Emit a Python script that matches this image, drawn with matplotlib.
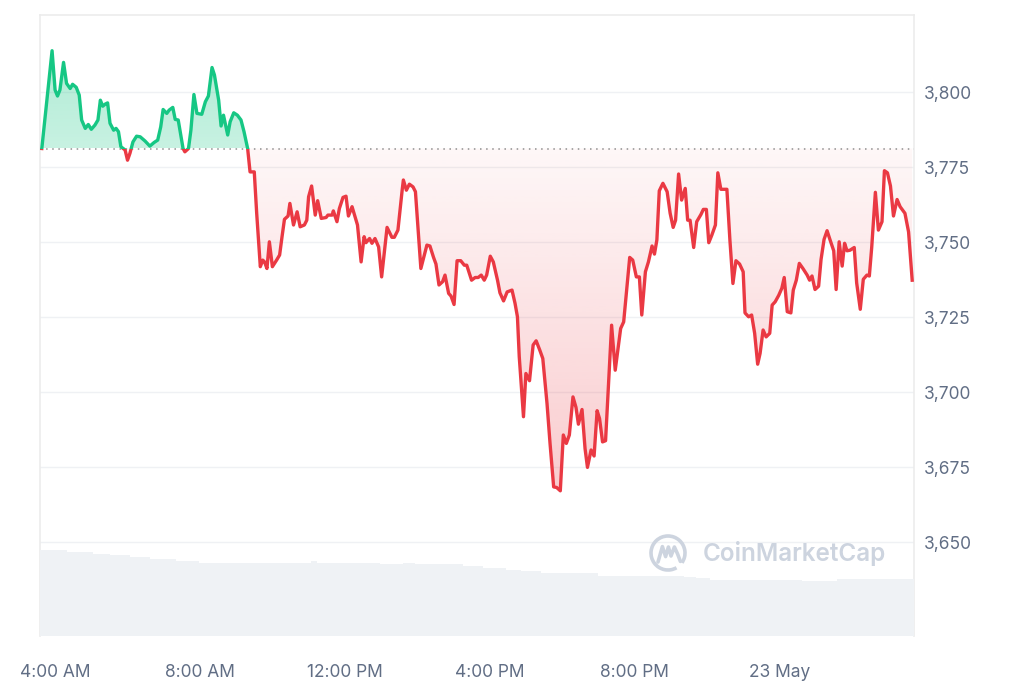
import numpy as np
import matplotlib
matplotlib.use('Agg')
import matplotlib.pyplot as plt
from matplotlib.path import Path
from matplotlib.patches import Rectangle, Arc

# minutes from 22 May 4:00 AM, price in USD
times = [-22, -5, 0, 4, 8, 14, 19, 25, 29, 35, 40, 44, 50, 55, 60, 66, 71, 75, 79, 83,
         87, 91, 97, 101, 105, 109, 116, 120, 124, 129, 135, 141, 149, 157, 164, 170, 175, 179, 185, 189,
         195, 199, 204, 212, 215, 221, 225, 230, 235, 243, 249, 254, 260, 264, 271, 275, 279, 286, 290, 296,
         302, 308, 313, 319, 323, 330, 334, 340, 344, 347, 351, 355, 360, 367, 372, 376, 380, 386, 389, 395,
         401, 406, 413, 417, 420, 425, 431, 435, 441, 449, 452, 459, 461, 467, 471, 477, 482, 486, 492, 501,
         507, 512, 515, 521, 525, 530, 536, 541, 550, 558, 562, 568, 575, 577, 582, 587, 593, 597, 606, 616,
         621, 627, 631, 636, 642, 646, 652, 656, 661, 666, 672, 678, 682, 690, 696, 701, 706, 711, 715, 721,
         726, 733, 737, 743, 749, 757, 762, 766, 769, 776, 780, 786, 792, 797, 803, 808, 815, 820, 826, 831,
         837, 842, 847, 852, 858, 863, 867, 873, 878, 882, 888, 893, 898, 902, 907, 912, 922, 928, 937, 942,
         952, 957, 963, 968, 972, 978, 983, 989, 993, 997, 1001, 1007, 1014, 1019, 1024, 1028, 1033, 1038, 1044, 1048,
         1052, 1058, 1063, 1070, 1074, 1079, 1083, 1088, 1094, 1098, 1103, 1113, 1118, 1123, 1128, 1134, 1140, 1143, 1149, 1154,
         1159, 1164, 1168, 1173, 1178, 1184, 1188, 1193, 1199, 1204, 1208, 1213, 1219, 1223, 1228, 1233, 1239, 1246, 1250, 1254,
         1259, 1265, 1269, 1274, 1279, 1284, 1290, 1294, 1299, 1304, 1308, 1312, 1317, 1324, 1328, 1334, 1339, 1345, 1349, 1353,
         1359, 1364, 1370, 1374, 1379, 1384, 1389, 1395, 1400, 1408, 1414, 1420]

prices = [3781.2, 3813.8, 3800.7, 3798.7, 3800.7, 3809.9, 3802.9, 3801.2, 3802.6, 3801.6, 3799.0, 3790.7, 3787.9, 3789.2, 3787.6, 3789.0, 3790.7, 3797.3, 3795.3, 3796.0,
          3796.4, 3789.6, 3787.3, 3787.9, 3786.8, 3781.8, 3780.7, 3777.3, 3779.6, 3783.4, 3785.3, 3785.1, 3783.7, 3782.0, 3783.2, 3784.0, 3788.4, 3794.2, 3792.9, 3794.0,
          3794.9, 3790.9, 3790.7, 3781.2, 3780.1, 3781.2, 3787.3, 3799.2, 3792.9, 3792.6, 3796.8, 3798.7, 3808.2, 3805.7, 3797.3, 3788.7, 3792.3, 3785.7, 3790.1, 3793.1,
          3792.3, 3790.7, 3786.8, 3781.2, 3773.4, 3773.4, 3759.6, 3741.8, 3744.0, 3743.4, 3741.2, 3750.1, 3741.8, 3744.0, 3745.7, 3751.8, 3757.6, 3758.7, 3762.9, 3755.7,
          3760.1, 3755.1, 3755.7, 3757.3, 3765.1, 3768.7, 3759.0, 3763.8, 3757.9, 3758.2, 3759.0, 3759.0, 3760.4, 3756.8, 3761.2, 3764.9, 3765.3, 3758.7, 3761.8, 3755.7,
          3743.4, 3751.8, 3749.8, 3751.2, 3749.6, 3751.2, 3748.4, 3738.4, 3754.9, 3751.6, 3751.6, 3754.0, 3767.3, 3770.7, 3767.3, 3769.3, 3768.4, 3766.8, 3741.2, 3749.0,
          3748.7, 3744.9, 3742.7, 3735.7, 3736.8, 3739.0, 3732.9, 3732.0, 3729.2, 3743.8, 3743.8, 3742.3, 3742.3, 3737.3, 3738.2, 3738.2, 3739.0, 3737.3, 3739.0, 3745.3,
          3743.4, 3737.3, 3733.1, 3730.4, 3733.4, 3734.0, 3729.6, 3725.1, 3711.8, 3691.8, 3706.2, 3703.8, 3715.7, 3717.1, 3714.0, 3711.2, 3696.2, 3682.9, 3668.4, 3668.2,
          3667.1, 3685.7, 3682.9, 3685.7, 3698.4, 3694.9, 3689.3, 3694.2, 3681.2, 3674.9, 3680.7, 3678.7, 3693.8, 3691.2, 3683.4, 3683.8, 3722.3, 3707.3, 3721.2, 3723.4,
          3744.9, 3744.0, 3738.4, 3738.4, 3725.7, 3740.1, 3743.4, 3748.7, 3746.0, 3750.7, 3767.1, 3769.6, 3766.8, 3759.6, 3754.9, 3757.3, 3772.7, 3764.0, 3767.9, 3757.3,
          3757.3, 3748.2, 3756.8, 3759.2, 3760.9, 3760.9, 3749.8, 3752.3, 3755.7, 3773.1, 3767.6, 3767.6, 3750.7, 3736.2, 3743.8, 3742.7, 3740.1, 3726.4, 3725.1, 3725.7,
          3719.6, 3709.3, 3712.9, 3720.7, 3718.4, 3719.6, 3729.0, 3730.1, 3732.3, 3734.6, 3738.2, 3726.8, 3726.4, 3734.0, 3737.3, 3742.9, 3741.2, 3739.0, 3737.3, 3738.7,
          3734.2, 3735.3, 3744.2, 3750.9, 3753.8, 3750.7, 3747.1, 3734.2, 3750.1, 3742.0, 3749.6, 3747.1, 3747.3, 3748.2, 3736.4, 3727.6, 3737.6, 3739.0, 3738.7, 3748.4,
          3766.6, 3754.0, 3756.8, 3773.8, 3773.1, 3768.7, 3758.7, 3764.2, 3761.8, 3759.6, 3753.4, 3737.3]

# 24h volume (billions USD), piecewise levels
vol_edges = [-25, 20, 63, 91, 124, 157, 200, 239, 424, 434, 539, 577, 597, 676, 709, 747,
             772, 805, 900, 1042, 1062, 1085, 1238, 1296, 1423]
vol_levels = [17.2, 16.9, 16.5, 16.2, 15.9, 15.4, 15.1, 14.7, 15.0, 14.7, 14.4, 14.7, 14.4,
              14.1, 13.7, 13.3, 13.1, 12.7, 12.1, 11.9, 11.7, 11.3, 11.0, 11.4]

xtick_pos = [0, 240, 480, 720, 960, 1200]
xtick_labels = ['4:00 AM', '8:00 AM', '12:00 PM', '4:00 PM', '8:00 PM', '23 May']
ytick_pos = [3650, 3675, 3700, 3725, 3750, 3775, 3800]

if len(times) != len(prices):
    raise ValueError(f'{len(times)} times vs {len(prices)} prices')

GREEN = '#16c784'
RED = '#ea3943'
TXT = '#616e85'
plt.rcParams['font.family'] = ['Inter', 'DejaVu Sans']

x = np.array(times, dtype=float)
y = np.array(prices)
base = prices[0]
xlim = (-25, 1423)
ylim = (3618.7, 3825.7)

fig = plt.figure(figsize=(10.24, 6.83), dpi=100)
ax = fig.add_axes([40 / 1024, 1 - 636 / 683, 874 / 1024, 621 / 683])
ax.set_xlim(*xlim)
ax.set_ylim(*ylim)


def gradient_fill(ax, where, color, y_near, y_far, a_near, a_far):
    poly = ax.fill_between(x, y, base, where=where, interpolate=True,
                           facecolor='none', edgecolor='none')
    path = Path.make_compound_path(*poly.get_paths())
    lo, hi = sorted([y_near, y_far])
    rgb = matplotlib.colors.to_rgb(color)
    n = 256
    alphas = np.linspace(a_near, a_far, n) if lo == y_near else np.linspace(a_far, a_near, n)
    img = np.zeros((n, 1, 4))
    img[:, 0, :3] = rgb
    img[:, 0, 3] = alphas
    im = ax.imshow(img, extent=[xlim[0], xlim[1], lo, hi], origin='lower',
                   aspect='auto', zorder=1, interpolation='bilinear')
    im.set_clip_path(path, ax.transData)


gradient_fill(ax, y >= base, GREEN, base, ylim[1], 0.24, 0.38)
gradient_fill(ax, y <= base, RED, base, 3662, 0.04, 0.27)

# price line, green above the opening price, red below
up, = ax.plot(x, y, color=GREEN, lw=2.4, zorder=4, solid_joinstyle='round')
dn, = ax.plot(x, y, color=RED, lw=2.4, zorder=4, solid_joinstyle='round')
up.set_clip_path(Rectangle((xlim[0], base), xlim[1] - xlim[0], 500, transform=ax.transData))
dn.set_clip_path(Rectangle((xlim[0], base - 500), xlim[1] - xlim[0], 500, transform=ax.transData))

ax.axhline(base, color='#8f8f8f', lw=1.1, linestyle=(0, (1, 3)), zorder=3)

ax.grid(axis='y', color='#eff1f4', lw=1)
ax.set_axisbelow(True)
for side in ['left', 'top', 'right']:
    ax.spines[side].set_color('#ececec')
    ax.spines[side].set_linewidth(1.2)
ax.spines['bottom'].set_visible(False)

# volume strip at the bottom
ax2 = ax.twinx()
ax2.set_ylim(0, 124.2)
ax2.stairs(vol_levels, vol_edges, fill=True, color='#eff2f5', zorder=1)
ax2.set_xlim(*xlim)
ax2.set_yticks([])
ax2.tick_params(right=False, labelright=False)
for s in ax2.spines.values():
    s.set_visible(False)

ax.set_xticks(xtick_pos)
ax.set_xticklabels(xtick_labels)
ax.set_yticks(ytick_pos)
ax.set_yticklabels([f'{v:,}' for v in ytick_pos])
ax.yaxis.tick_right()
ax.tick_params(axis='x', length=0, pad=20, labelsize=12.5, labelcolor=TXT)
ax.tick_params(axis='y', length=0, pad=7, labelsize=12.5, labelcolor=TXT,
               left=False, labelleft=False, right=False, labelright=True)

# watermark
WM = '#cdd4df'
ax2.text((703 - 40) / 874, (636 - 554) / 621, 'CoinMarketCap', transform=ax2.transAxes,
         fontsize=17.5, fontweight='semibold', color=WM, va='center', ha='left', zorder=6)
lax = fig.add_axes([648 / 1024, 1 - 573 / 683, 40 / 1024, 40 / 683])
lax.set_xlim(-1, 1)
lax.set_ylim(-1, 1)
lax.set_aspect('equal')
lax.axis('off')
lax.add_patch(Arc((0, 0), 1.7, 1.7, theta1=-35, theta2=300, color=WM, lw=2.6))
lax.plot([-0.5, -0.28, -0.12, 0.02, 0.15, 0.32, 0.48, 0.62],
         [-0.45, 0.32, -0.18, 0.3, -0.15, 0.3, -0.05, -0.42], color=WM, lw=2.6,
         solid_joinstyle='round', solid_capstyle='round')

fig.savefig('out.png', dpi=100)
